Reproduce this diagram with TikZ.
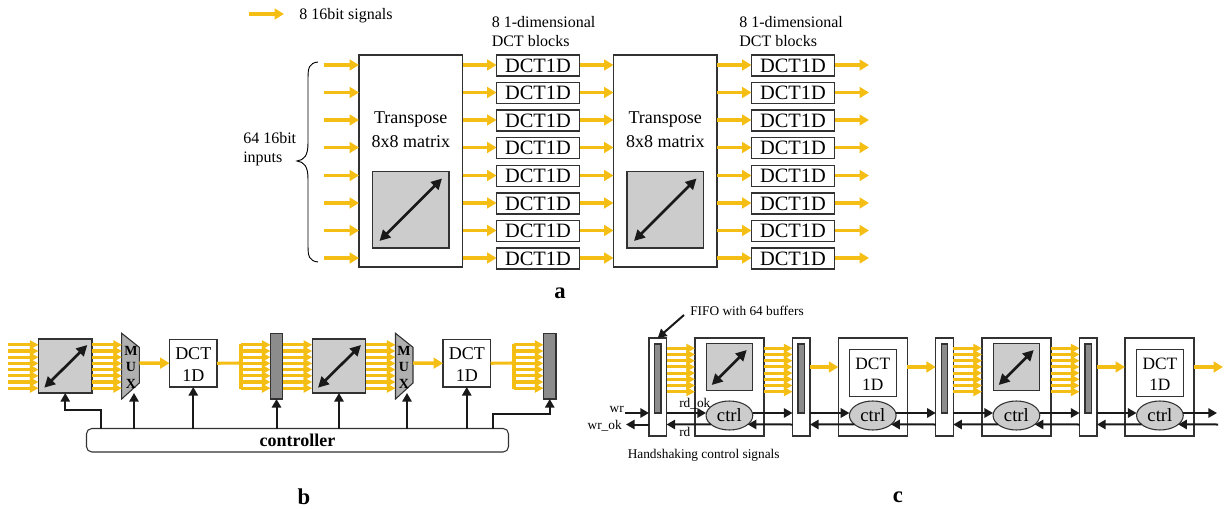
\documentclass[tikz,border=0pt]{standalone}
\usepackage{fontspec}
\setmainfont{Liberation Serif}
\usetikzlibrary{arrows.meta}
\usetikzlibrary{calc}
\usetikzlibrary{shapes.geometric}
\definecolor{sigyellow}{RGB}{245,190,20}
\definecolor{boxgray}{RGB}{204,204,204}
\definecolor{muxgray}{RGB}{176,176,176}
\definecolor{fifogray}{RGB}{140,140,140}
\definecolor{edgegray}{RGB}{50,50,50}
\tikzset{
  boxsize/.style 2 args={minimum width=#1*0.75pt,minimum height=#2*0.75pt},
  plainbox/.style={draw=edgegray,fill=white,line width=0.8pt,rectangle,inner sep=0pt,outer sep=0pt},
  graybox/.style={plainbox,fill=boxgray},
  fifobox/.style={plainbox,fill=fifogray},
  ctrlnode/.style={draw=edgegray,fill=boxgray,line width=0.8pt,ellipse,inner sep=0pt,outer sep=0pt,boxsize={46.7}{29},font=\fontsize{14}{16}\selectfont},
  sig/.style={draw=sigyellow,line width=2.6pt,-{Triangle[length=7pt,width=8pt]}},
  sigthin/.style={draw=sigyellow,line width=2.3pt,-{Triangle[length=6.5pt,width=6.5pt]}},
  signal/.style={draw=sigyellow,line width=2.3pt},
  ctl/.style={draw=black!90,line width=1.5pt,-{Triangle[length=6.5pt,width=7pt]}},
  swap/.style={draw=black!90,line width=2pt,{Triangle[length=8pt,width=8pt]}-{Triangle[length=8pt,width=8pt]}},
  txt/.style={inner sep=0pt,font=\fontsize{12}{14}\selectfont},
  small/.style={inner sep=0pt,font=\fontsize{10}{12}\selectfont},
  big/.style={inner sep=0pt,font=\fontsize{13.5}{16}\selectfont},
  blocktxt/.style={inner sep=0pt,font=\fontsize{13}{16}\selectfont},
  dct/.style={inner sep=0pt,font=\fontsize{15.3}{18}\selectfont},
  muxtxt/.style={inner sep=0pt,font=\fontsize{10.5}{12}\selectfont\bfseries},
  panel/.style={inner sep=0pt,font=\fontsize{17}{20}\selectfont\bfseries},
}
% eight parallel signals: start, end, middle height
\newcommand{\bundle}[3]{
  \foreach \d in {-21.7,-15.5,-9.3,-3.1,3.1,9.3,15.5,21.7}
    \draw[sigthin] (#1 |- 0,#3+\d) -- (#2 |- 0,#3+\d);
}
\begin{document}
\begin{tikzpicture}[x=0.75pt,y=0.75pt,yscale=-1,xscale=1]
\useasboundingbox (0,0) rectangle (1230,509);

% Legend
\coordinate (legA) at (249,14);
\node [txt,anchor=west] (legtxt) at (299,16) {8 16bit signals};
\draw [sig] (legA) -- (284,14);

% Panel a boxes
\node [plainbox,boxsize={103.5}{212}] (trA1) at (410.75,161) {};
\node [plainbox,boxsize={103.5}{212}] (trA2) at (665.25,161) {};
\node [graybox,boxsize={76.5}{76.5}] (swA1) at (410.75,209.75) {};
\node [graybox,boxsize={76.5}{76.5}] (swA2) at (665.25,209.75) {};
\draw [swap] (swA1.south west)++(7,-7) coordinate (swA1a) -- ($(swA1.north east)+(-7,7)$);
\draw [swap] (swA2.south west)++(7,-7) coordinate (swA2a) -- ($(swA2.north east)+(-7,7)$);

% Panel a rows
\foreach \i/\y in {1/65,2/92.5,3/120,4/147.5,5/175.5,6/203,7/230.5,8/258}{
  \node [plainbox,boxsize={83}{21},dct] (dctA\i) at (538,\y+0.5) {DCT1D};
  \node [plainbox,boxsize={83}{21},dct] (dctB\i) at (793,\y+0.5) {DCT1D};
  \coordinate (inA\i) at (324,\y);
  \coordinate (outA\i) at (869,\y);
  \draw [sig] (inA\i) -- (inA\i -| trA1.west);
  \draw [sig] (inA\i -| trA1.east) -- (inA\i -| dctA\i.west);
  \draw [sig] (inA\i -| dctA\i.east) -- (inA\i -| trA2.west);
  \draw [sig] (inA\i -| trA2.east) -- (inA\i -| dctB\i.west);
  \draw [sig] (inA\i -| dctB\i.east) -- (outA\i);
}

%Curve Lines
\draw [line width=0.7pt] (318,62) .. controls (309,63) and (308,68) .. (308,78) -- (308,143) .. controls (308,156) and (304,160) .. (297,161) .. controls (304,162) and (308,166) .. (308,179) -- (308,246) .. controls (308,256) and (309,261) .. (318,262);

% Text Node
\node [txt,anchor=west] (inlabA) at (243,138) {64 16bit};
\node [txt,anchor=west] (inlabB) at (243,159) {inputs};
\node [big] (trA1a) at (410.75,120) {Transpose};
\node [big] (trA1b) at (410.75,142) {8x8 matrix};
\node [big] (trA2a) at (665.25,120) {Transpose};
\node [big] (trA2b) at (665.25,142) {8x8 matrix};
\node [txt,anchor=west] (dctlabA) at (491.5,22) {8 1-dimensional};
\node [txt,anchor=west] (dctlabB) at (491.5,41) {DCT blocks};
\node [txt,anchor=west] (dctlabC) at (739,22) {8 1-dimensional};
\node [txt,anchor=west] (dctlabD) at (739,41) {DCT blocks};
\node [panel] (panA) at (560,293) {a};

% Panel b blocks
\node [graybox,boxsize={53.5}{54}] (swB1) at (65.25,366) {};
\node [graybox,boxsize={53.5}{54}] (swB2) at (339,366) {};
\draw [swap] (44.3,387.7) coordinate (swB1a) -- (87.3,345);
\draw [swap] (318,387.7) coordinate (swB2a) -- (361,345);
\node [plainbox,boxsize={47.5}{47.5}] (dctC1) at (193.25,363.25) {};
\node [plainbox,boxsize={47.5}{47.5}] (dctC2) at (466.75,363.25) {};
\node [big] (dctC1a) at (193.25,353.5) {DCT};
\node [big] (dctC1b) at (193.25,375.5) {1D};
\node [big] (dctC2a) at (466.75,353.5) {DCT};
\node [big] (dctC2b) at (466.75,375.5) {1D};
\node [fifobox,boxsize={12}{65.5}] (fifoB1) at (276.5,366.25) {};
\node [fifobox,boxsize={12.5}{65.5}] (fifoB2) at (549.75,366.25) {};
%Shape: Mux
\draw [plainbox,fill=muxgray] (121.7,333.3) coordinate (muxA) -- (139.3,347.3) -- (139.3,383) -- (121.7,399) -- cycle;
\draw [plainbox,fill=muxgray] (395.5,333.3) coordinate (muxB) -- (413,347.3) -- (413,383) -- (395.5,399) -- cycle;
\node [muxtxt] (muxAm) at (131,350.5) {M};
\node [muxtxt] (muxAu) at (131,366.5) {U};
\node [muxtxt] (muxAx) at (131,383.5) {X};
\node [muxtxt] (muxBm) at (404,350.5) {M};
\node [muxtxt] (muxBu) at (404,366.5) {U};
\node [muxtxt] (muxBx) at (404,383.5) {X};
\node [plainbox,rounded corners=4pt,boxsize={422}{23.5},font=\fontsize{13.5}{15}\selectfont\bfseries] (ctlB) at (297.5,440.25) {controller};

% Panel b signals
\coordinate (inB) at (8,366);
\coordinate (muxAin) at (122,366);
\coordinate (muxAout) at (139.3,363);
\coordinate (muxBin) at (395.5,366);
\coordinate (muxBout) at (413,363);
\coordinate (splitA) at (241,363);
\coordinate (splitB) at (514,363);
\bundle{inB}{swB1.west}{366.5}
\bundle{swB1.east}{muxAin}{366.5}
\draw [sig] (muxAout) -- (dctC1.west);
\draw [signal] (dctC1.east) -- (splitA);
\draw [signal] (241,344) -- (241,389);
\bundle{splitA}{fifoB1.west}{366.5}
\bundle{fifoB1.east}{swB2.west}{366.5}
\bundle{swB2.east}{muxBin}{366.5}
\draw [sig] (muxBout) -- (dctC2.west);
\draw [signal] (dctC2.east) -- (splitB);
\draw [signal] (514,344) -- (514,389);
\bundle{splitB}{fifoB2.west}{366.5}

% Panel b control
\draw [ctl] (ctlB.north -| 101,0) -- (101,410) -| (swB1.south);
\draw [ctl] (ctlB.north -| 134,0) -- (134,393);
\draw [ctl] (ctlB.north -| dctC1.south) -- (dctC1.south);
\draw [ctl] (ctlB.north -| fifoB1.south) -- (fifoB1.south);
\draw [ctl] (ctlB.north -| swB2.south) -- (swB2.south);
\draw [ctl] (ctlB.north -| 407,0) -- (407,393);
\draw [ctl] (ctlB.north -| dctC2.south) -- (dctC2.south);
\draw [ctl] (ctlB.north -| 493,0) -- (493,414) -| (fifoB2.south);
\node [panel] (panB) at (304,497) {b};

% Panel c blocks
\node [plainbox,boxsize={17.5}{98}] (fifoC1) at (657.75,387) {};
\node [plainbox,boxsize={17.5}{98}] (fifoC2) at (801.25,387) {};
\node [plainbox,boxsize={17.5}{98}] (fifoC3) at (944.5,387) {};
\node [plainbox,boxsize={17.5}{98}] (fifoC4) at (1088.25,387) {};
\node [fifobox,boxsize={6.5}{69}] (fifoI1) at (657.75,378.5) {};
\node [fifobox,boxsize={6.5}{69}] (fifoI2) at (801.25,378.5) {};
\node [fifobox,boxsize={6.5}{69}] (fifoI3) at (944.5,378.5) {};
\node [fifobox,boxsize={6.5}{69}] (fifoI4) at (1088.25,378.5) {};
\node [plainbox,boxsize={69}{98}] (unitC1) at (729.5,387) {};
\node [plainbox,boxsize={69}{98}] (unitC2) at (872.75,387) {};
\node [plainbox,boxsize={69}{98}] (unitC3) at (1016.5,387) {};
\node [plainbox,boxsize={69}{98}] (unitC4) at (1159.5,387) {};
\node [graybox,boxsize={46.7}{46.7}] (swC1) at (729.4,367.3) {};
\node [graybox,boxsize={46.7}{46.7}] (swC3) at (1016.4,367.3) {};
\draw [swap] (711.7,385) coordinate (swC1a) -- (746.7,350);
\draw [swap] (998.7,385) coordinate (swC3a) -- (1033.7,350);
\node [plainbox,boxsize={46.7}{46.7}] (dctD2) at (872.75,372.7) {};
\node [plainbox,boxsize={46.7}{46.7}] (dctD4) at (1159.9,372.7) {};
\node [blocktxt] (dctD2a) at (872.75,364) {DCT};
\node [blocktxt] (dctD2b) at (872.75,385) {1D};
\node [blocktxt] (dctD4a) at (1159.9,364) {DCT};
\node [blocktxt] (dctD4b) at (1159.9,385) {1D};
\node [ctrlnode] (ctrlC1) at (729.4,415.5) {ctrl};
\node [ctrlnode] (ctrlC2) at (872.75,415.5) {ctrl};
\node [ctrlnode] (ctrlC3) at (1016.4,415.5) {ctrl};
\node [ctrlnode] (ctrlC4) at (1159.9,415.5) {ctrl};

% Panel c signals
\coordinate (up) at (0,413);
\coordinate (lo) at (0,424.5);
\coordinate (mid) at (0,367);
\bundle{fifoC1.east}{unitC1.west}{370}
\bundle{unitC1.east}{fifoC2.west}{370}
\draw [sig] (fifoC2.east |- mid) -- (unitC2.west |- mid);
\draw [sig] (unitC2.east |- mid) -- (fifoC3.west |- mid);
\bundle{fifoC3.east}{unitC3.west}{370}
\bundle{unitC3.east}{fifoC4.west}{370}
\draw [sig] (fifoC4.east |- mid) -- (unitC4.west |- mid);
\coordinate (outC) at (1223,367);
\draw [sig] (unitC4.east |- mid) -- (outC);

% Panel c handshake
\coordinate (wrin) at (625,413);
\coordinate (wrout) at (626,424.5);
\coordinate (endup) at (1217,413);
\coordinate (endlo) at (1218,424.5);
\draw [ctl] (wrin) -- (fifoC1.west |- up);
\draw [ctl] (fifoC1.east |- up) -- (ctrlC1.west |- up);
\draw [ctl] (ctrlC1.east |- up) -- (fifoC2.west |- up);
\draw [ctl] (fifoC2.east |- up) -- (ctrlC2.west |- up);
\draw [ctl] (ctrlC2.east |- up) -- (fifoC3.west |- up);
\draw [ctl] (fifoC3.east |- up) -- (ctrlC3.west |- up);
\draw [ctl] (ctrlC3.east |- up) -- (fifoC4.west |- up);
\draw [ctl] (fifoC4.east |- up) -- (ctrlC4.west |- up);
\draw [ctl] (ctrlC4.east |- up) -- (endup);
\draw [ctl] (fifoC1.west |- lo) -- (wrout);
\draw [ctl] (ctrlC1.206) -- (fifoC1.east |- lo);
\draw [ctl] (fifoC2.west |- lo) -- (ctrlC1.-26);
\draw [ctl] (ctrlC2.206) -- (fifoC2.east |- lo);
\draw [ctl] (fifoC3.west |- lo) -- (ctrlC2.-26);
\draw [ctl] (ctrlC3.206) -- (fifoC3.east |- lo);
\draw [ctl] (fifoC4.west |- lo) -- (ctrlC3.-26);
\draw [ctl] (ctrlC4.206) -- (fifoC4.east |- lo);
\draw [ctl] (endlo) -- (ctrlC4.-26);

% Text Node
\node [small,anchor=west] (fifolab) at (690,311) {FIFO with 64 buffers};
\draw [ctl] (684,315) -- (fifoC1.north);
\node [small,anchor=east] (wrlab) at (624,409) {wr};
\node [small,anchor=east] (wroklab) at (622,426) {wr\_ok};
\node [small,anchor=west] (rdoklab) at (679,404) {rd\_ok};
\node [small,anchor=west] (rdlab) at (679,432) {rd};
\node [small,anchor=west] (hslab) at (627.5,455) {Handshaking control signals};
\node [panel] (panC) at (898,497) {c};

\end{tikzpicture}
\end{document}
